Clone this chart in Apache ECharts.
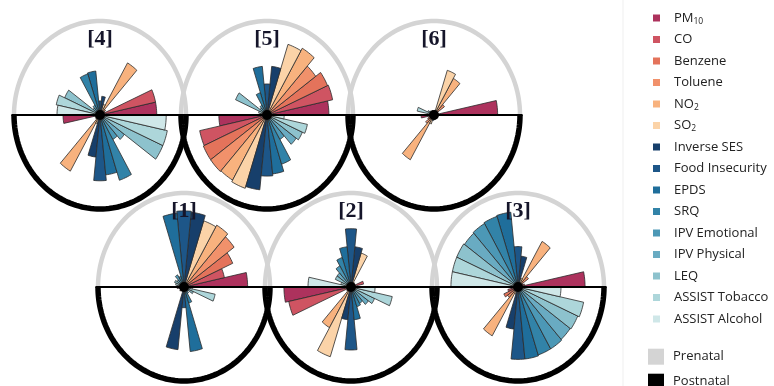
<!DOCTYPE html>
<html>
<head>
<meta charset="utf-8">
<script src="https://cdn.jsdelivr.net/npm/echarts@6/dist/echarts.min.js"></script>
<style>
  html, body { margin: 0; padding: 0; background: #ffffff; }
  #chart { width: 774px; height: 386px; }
</style>
</head>
<body>
<div id="chart"></div>
<script>
// ---- Exposure variables (order of the wedges, counter-clockwise) ----
const VARIABLES = ['PM10', 'CO', 'Benzene', 'Toluene', 'NO2', 'SO2',
  'Inverse SES', 'Food Insecurity', 'EPDS', 'SRQ', 'IPV Emotional',
  'IPV Physical', 'LEQ', 'ASSIST Tobacco', 'ASSIST Alcohol'];
const PERIODS = ['Prenatal', 'Postnatal'];
const PANEL_LABELS = ['[1]', '[2]', '[3]', '[4]', '[5]', '[6]'];

// ---- Wedge lengths per profile (1 = outline radius) ----
const PRENATAL_1  = [0.74, 0.48, 0.62, 0.72, 0.76, 0.74, 0.80, 0.81, 0.79, 0.12, 0.15, 0.10, 0.12, 0.10, 0.08];
const POSTNATAL_1 = [0.08, 0.05, 0.04, 0.06, 0.05, 0.05, 0.67, 0.22, 0.69, 0.18, 0.08, 0.06, 0.12, 0.37, 0.10];
const PRENATAL_2  = [0.04, 0.15, 0.04, 0.05, 0.06, 0.38, 0.43, 0.62, 0.43, 0.33, 0.26, 0.20, 0.20, 0.12, 0.50];
const POSTNATAL_2 = [0.78, 0.74, 0.05, 0.06, 0.50, 0.78, 0.35, 0.67, 0.35, 0.22, 0.20, 0.25, 0.30, 0.49, 0.28];
const PRENATAL_3  = [0.78, 0.08, 0.06, 0.15, 0.56, 0.10, 0.33, 0.43, 0.80, 0.79, 0.78, 0.77, 0.78, 0.78, 0.78];
const POSTNATAL_3 = [0.08, 0.12, 0.18, 0.15, 0.60, 0.08, 0.45, 0.77, 0.77, 0.76, 0.76, 0.75, 0.76, 0.78, 0.50];
const PRENATAL_4  = [0.66, 0.66, 0.06, 0.08, 0.64, 0.12, 0.20, 0.15, 0.47, 0.46, 0.12, 0.10, 0.45, 0.52, 0.50];
const POSTNATAL_4 = [0.43, 0.06, 0.05, 0.06, 0.69, 0.10, 0.45, 0.70, 0.64, 0.73, 0.30, 0.35, 0.80, 0.80, 0.77];
const PRENATAL_5  = [0.72, 0.78, 0.77, 0.70, 0.82, 0.79, 0.52, 0.33, 0.52, 0.25, 0.12, 0.10, 0.40, 0.10, 0.08];
const POSTNATAL_5 = [0.56, 0.80, 0.81, 0.81, 0.80, 0.82, 0.80, 0.65, 0.63, 0.55, 0.30, 0.42, 0.45, 0.48, 0.20];
const PRENATAL_6  = [0.74, 0.05, 0.05, 0.15, 0.45, 0.50, 0.05, 0.04, 0.04, 0.05, 0.05, 0.06, 0.08, 0.20, 0.06];
const POSTNATAL_6 = [0.15, 0.06, 0.08, 0.12, 0.55, 0.10, 0.06, 0.05, 0.05, 0.04, 0.04, 0.04, 0.04, 0.04, 0.04];

const PROFILES = [
  [PRENATAL_1, POSTNATAL_1], [PRENATAL_2, POSTNATAL_2], [PRENATAL_3, POSTNATAL_3],
  [PRENATAL_4, POSTNATAL_4], [PRENATAL_5, POSTNATAL_5], [PRENATAL_6, POSTNATAL_6]
];

// ---- Styling ----
const VAR_COLORS = ['#ad325d', '#cf5462', '#e4735b', '#f1916b', '#f8b27e', '#fbd3a8',
  '#173f6b', '#1d5688', '#1f6e9b', '#3283a8', '#4c98b6', '#69abc2', '#8dc2cd', '#add6da', '#cfe7e8'];
const PRENATAL_COLOR = '#d4d4d4';
const POSTNATAL_COLOR = '#000000';
const LEGEND_FONT = 'Open Sans';

// ---- Layout (pixels) ----
const W = 774, H = 386;
const RX = 86, RY = 94;                       // outline half-width / half-height
const PANEL_POS = [[184, 287], [351, 287], [518, 287], [100, 115], [267, 115], [434, 115]];
const ROWS = [[3, 4, 5], [0, 1, 2]];
const SECTOR = 180 / VARIABLES.length;        // degrees per wedge

// panel centres in axis units (1 unit = one outline radius)
const CENTERS = PANEL_POS.map(p => [p[0] / RX, p[1] / RY]);
const toRad = d => d * Math.PI / 180;

function ellipsePoints(api, c, r, fromDeg, toDeg, steps) {
  const pts = [];
  for (let k = 0; k <= steps; k++) {
    const a = toRad(fromDeg + (toDeg - fromDeg) * k / steps);
    pts.push(api.coord([c[0] + r * Math.cos(a), c[1] - r * Math.sin(a)]));
  }
  return pts;
}

const series = [];

// outline halves: prenatal on top, postnatal below
PERIODS.forEach((name, period) => {
  series.push({
    name: name,
    type: 'custom',
    coordinateSystem: 'cartesian2d',
    z: 1 + period,
    silent: true,
    itemStyle: { color: period === 0 ? PRENATAL_COLOR : POSTNATAL_COLOR },
    data: CENTERS.map((c, i) => [i, period]),
    renderItem: function (params, api) {
      const c = CENTERS[api.value(0)];
      const from = period * 180;
      return {
        type: 'polyline',
        shape: { points: ellipsePoints(api, c, 1, from, from + 180, 90) },
        style: {
          fill: null,
          stroke: period === 0 ? PRENATAL_COLOR : POSTNATAL_COLOR,
          lineWidth: period === 0 ? 4.5 : 5.5
        }
      };
    }
  });
});

// one wedge series per variable, spanning all panels and both periods
VARIABLES.forEach((name, v) => {
  const data = [];
  PROFILES.forEach((prof, p) => {
    prof.forEach((vals, period) => data.push([p, period, vals[v]]));
  });
  series.push({
    name: name,
    type: 'custom',
    coordinateSystem: 'cartesian2d',
    z: 3,
    silent: true,
    itemStyle: { color: VAR_COLORS[v] },
    data: data,
    renderItem: function (params, api) {
      const c = CENTERS[api.value(0)];
      const period = api.value(1);
      const r = api.value(2);
      const start = period * 180 + v * SECTOR;
      const pts = [api.coord([c[0], c[1]])].concat(ellipsePoints(api, c, r, start, start + SECTOR, 6));
      return {
        type: 'polygon',
        shape: { points: pts },
        style: { fill: VAR_COLORS[v], stroke: '#2b2b2b', lineWidth: 0.8 }
      };
    }
  });
});

// horizontal divider through each row
series.push({
  type: 'custom',
  coordinateSystem: 'cartesian2d',
  z: 4,
  silent: true,
  data: ROWS.map((r, i) => [i, 0]),
  renderItem: function (params, api) {
    const row = ROWS[api.value(0)];
    const a = CENTERS[row[0]], b = CENTERS[row[row.length - 1]];
    const p0 = api.coord([a[0] - 1.03, a[1]]);
    const p1 = api.coord([b[0] + 1.03, b[1]]);
    return {
      type: 'line',
      shape: { x1: p0[0], y1: p0[1], x2: p1[0], y2: p1[1] },
      style: { stroke: '#000', lineWidth: 1.8 }
    };
  }
});

// centre hubs and panel labels
series.push({
  type: 'custom',
  coordinateSystem: 'cartesian2d',
  z: 5,
  silent: true,
  data: CENTERS.map((c, i) => [i, 0]),
  renderItem: function (params, api) {
    const i = api.value(0);
    const c = CENTERS[i];
    const hub = api.coord([c[0], c[1]]);
    const lab = api.coord([c[0], c[1] - 0.8]);
    return {
      type: 'group',
      children: [
        { type: 'circle', shape: { cx: hub[0], cy: hub[1], r: 5 }, style: { fill: '#000' } },
        {
          type: 'text', x: lab[0], y: lab[1],
          style: {
            text: PANEL_LABELS[i], fontFamily: 'Liberation Serif', fontSize: 22,
            fontWeight: 'bold', fill: '#15152a', align: 'center', verticalAlign: 'middle'
          }
        }
      ]
    };
  }
});

const RICH_NAMES = { 'PM10': 'PM{sub|10}', 'NO2': 'NO{sub|2}', 'SO2': 'SO{sub|2}' };

const option = {
  backgroundColor: '#ffffff',
  animation: false,
  grid: { left: 0, top: 0, width: W, height: H, containLabel: false },
  xAxis: { type: 'value', min: 0, max: W / RX, show: false },
  yAxis: { type: 'value', min: 0, max: H / RY, inverse: true, show: false },
  legend: [
    {
      data: VARIABLES,
      orient: 'vertical',
      left: 648, top: 5,
      icon: 'rect', itemWidth: 7, itemHeight: 7, itemGap: 5.5,
      selectedMode: false,
      formatter: name => RICH_NAMES[name] || name,
      textStyle: {
        fontFamily: LEGEND_FONT, fontSize: 13, color: '#222', lineHeight: 16,
        padding: [0, 0, 0, 9],
        rich: { sub: { fontFamily: LEGEND_FONT, fontSize: 8.5, color: '#222', verticalAlign: 'bottom' } }
      }
    },
    {
      data: PERIODS,
      orient: 'vertical',
      left: 648, top: 348.7, height: 60, padding: 0,
      icon: 'rect', itemWidth: 16, itemHeight: 16, itemGap: 9,
      selectedMode: false,
      textStyle: { fontFamily: LEGEND_FONT, fontSize: 13, color: '#222', padding: [0, 0, 0, 4] }
    }
  ],
  graphic: [
    { type: 'line', shape: { x1: 623, y1: 0, x2: 623, y2: H }, style: { stroke: '#efefef', lineWidth: 1 }, silent: true }
  ],
  series: series
};

const chart = echarts.init(document.getElementById('chart'), null, { renderer: 'canvas' });
chart.setOption(option);
</script>
</body>
</html>
